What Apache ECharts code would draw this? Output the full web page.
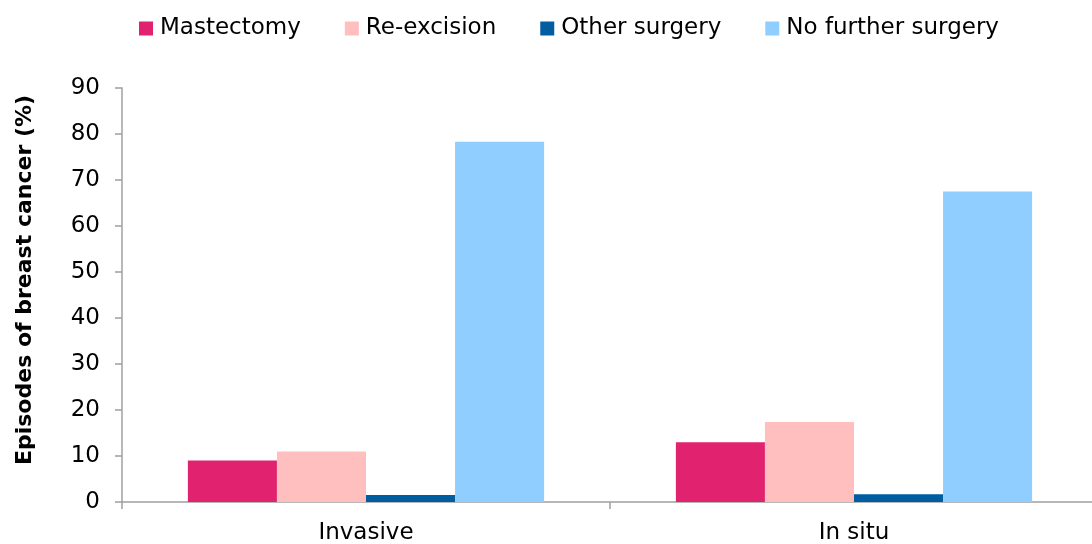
<!DOCTYPE html>
<html>
<head>
<meta charset="utf-8">
<script src="https://cdn.jsdelivr.net/npm/echarts@6/dist/echarts.min.js"></script>
<style>
  html, body { margin: 0; padding: 0; background: #ffffff; }
  #chart { width: 1092px; height: 544px; }
</style>
</head>
<body>
<div id="chart"></div>
<script>
// Episodes of breast cancer by type of further surgery (%)
const categories = ['Invasive', 'In situ'];
const seriesNames = ['Mastectomy', 'Re-excision', 'Other surgery', 'No further surgery'];
const mastectomy = [9.0, 13.0];
const reExcision = [11.0, 17.4];
const otherSurgery = [1.5, 1.7];
const noFurtherSurgery = [78.3, 67.5];
const yTicks = [0, 10, 20, 30, 40, 50, 60, 70, 80, 90];

const colors = ['#E0226F', '#FFBFBF', '#005EA0', '#8FCEFF'];
const values = [mastectomy, reExcision, otherSurgery, noFurtherSurgery];
const FONT = 'DejaVu Sans';
const axisGray = '#A0A0A0';

const chart = echarts.init(document.getElementById('chart'), null, { renderer: 'canvas' });

chart.setOption({
  animation: false,
  backgroundColor: '#ffffff',
  textStyle: { fontFamily: FONT },
  legend: {
    left: 139,
    top: 17,
    padding: 0,
    itemWidth: 14,
    itemHeight: 14,
    itemGap: 44,
    icon: 'rect',
    textStyle: { fontFamily: FONT, fontSize: 23, color: '#000000', padding: [0, 0, 0, 2] },
    data: seriesNames
  },
  // plot box: x axis runs a little past the right edge of the canvas
  grid: {
    left: 122, width: 976, top: 88, bottom: 42,
    containLabel: false,
    outerBoundsMode: 'none'
  },
  xAxis: {
    type: 'category',
    data: categories,
    boundaryGap: true,
    axisLine: { show: true, lineStyle: { color: axisGray, width: 1.5 } },
    axisTick: { show: true, length: 7, alignWithLabel: false, lineStyle: { color: axisGray, width: 1.5 } },
    axisLabel: { fontFamily: FONT, fontSize: 23, color: '#000000', margin: 20 },
    splitLine: { show: false }
  },
  yAxis: {
    type: 'value',
    min: yTicks[0],
    max: yTicks[yTicks.length - 1],
    interval: yTicks[1] - yTicks[0],
    axisLine: { show: true, lineStyle: { color: axisGray, width: 1.5 } },
    axisTick: { show: true, length: 7, inside: false, lineStyle: { color: axisGray, width: 1.5 } },
    axisLabel: { fontFamily: FONT, fontSize: 23, color: '#000000', margin: 22 },
    splitLine: { show: false }
  },
  graphic: [{
    type: 'text',
    x: 25,
    y: 280,
    rotation: Math.PI / 2,
    style: {
      text: 'Episodes of breast cancer (%)',
      fontFamily: FONT,
      fontSize: 22,
      fontWeight: 'bold',
      fill: '#000000',
      align: 'center',
      verticalAlign: 'middle'
    }
  }],
  series: seriesNames.map((name, i) => ({
    name: name,
    type: 'bar',
    data: values[i],
    barGap: '0%',
    barCategoryGap: '27%',
    itemStyle: { color: colors[i] },
    emphasis: { disabled: true }
  }))
});
</script>
</body>
</html>
